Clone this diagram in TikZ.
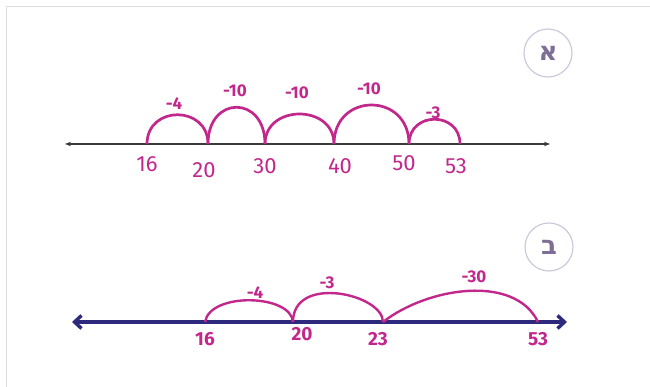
\documentclass[tikz,border=0pt]{standalone}
\usepackage{fontspec}
\usepackage{xcolor}
\usepackage{tikz}
\usetikzlibrary{arrows.meta}
\TeXXeTstate=1
\newfontfamily\handfont{Fira Sans}
\newfontfamily\hebfont[Script=Hebrew]{DejaVu Sans}
\definecolor{pen}{HTML}{C2288C}
\definecolor{axisgray}{HTML}{3A3A3A}
\definecolor{axisnavy}{HTML}{2D2A7E}
\definecolor{badgering}{HTML}{CFC8DC}
\definecolor{badgetext}{HTML}{7D6E96}
\definecolor{framegray}{HTML}{DDDDDD}

\begin{document}
\begin{tikzpicture}[
    x=1pt, y=1pt,
    jump/.style={draw=pen, line width=2.7pt},
    num/.style={text=pen, inner sep=0pt, font=\handfont\fontsize{22}{22}\selectfont},
    hoplabel/.style={text=pen, inner sep=0pt, font=\handfont\bfseries\fontsize{17}{17}\selectfont},
    badge/.style={circle, draw=badgering, line width=1.2pt, minimum size=48pt, inner sep=0pt,
        text=badgetext, font=\hebfont\bfseries\fontsize{26}{26}\selectfont}
]
\useasboundingbox (0,0) rectangle (650,387);
\draw[framegray, line width=1pt] (6,0) -- (6,380) -- (650,380);

% line A
\coordinate (aL) at (65,243);
\coordinate (aR) at (550,243);
\draw[{Stealth[length=6pt,width=4.5pt]}-{Stealth[length=6pt,width=4.5pt]},
    line width=1.1pt, draw=axisgray] (aL) -- (aR);
\foreach \v/\x in {16/147, 20/208, 30/265, 40/334, 50/409, 53/460}
    \coordinate (a\v) at (\x,243);
\draw[jump] (a16) .. controls +(0,39) and +(0,39) .. (a20);
\draw[jump] (a20) .. controls +(0,49) and +(0,49) .. (a30);
\draw[jump] (a30) .. controls +(0,40) and +(0,40) .. (a40);
\draw[jump] (a40) .. controls +(0,52) and +(0,52) .. (a50);
\draw[jump] (a50) .. controls +(0,33) and +(0,33) .. (a53);
\foreach \v/\x/\y in {16/147/223, 20/204/217, 30/265/221, 40/340/221, 50/404/224, 53/456/221}
    \node[num] (na\v) at (\x,\y) {\v};
\node[hoplabel] (ha1) at (174,283) {-4};
\node[hoplabel] (ha2) at (235,296) {-10};
\node[hoplabel] (ha3) at (297,294) {-10};
\node[hoplabel] (ha4) at (369,298) {-10};
\node[hoplabel] (ha5) at (433,274) {-3};
\node[badge] (badgeA) at (548,334) {\beginR א\endR};

% line B
\coordinate (bL) at (72,65);
\coordinate (bR) at (567,65);
\draw[{Straight Barb[length=7pt,width=13pt]}-{Straight Barb[length=7pt,width=13pt]},
    line width=3.4pt, draw=axisnavy] (bL) -- (bR);
\foreach \v/\x in {16/205, 20/293, 23/383, 53/538}
    \coordinate (b\v) at (\x,65);
\draw[jump, line width=2.4pt] (b16) .. controls +(5,30) and +(-2,28) .. (b20);
\draw[jump, line width=2.4pt] (b20) .. controls +(0,48) and +(0,28) .. (b23);
\draw[jump, line width=2.4pt] (b23) .. controls +(45,35) and +(-23,48) .. (b53);
\foreach \v/\x/\y in {16/205/48, 20/302/53, 23/378/48, 53/538/48}
    \node[num, font=\handfont\bfseries\fontsize{19}{19}\selectfont] (nb\v) at (\x,\y) {\v};
\node[hoplabel] (hb1) at (255,94) {-4};
\node[hoplabel] (hb2) at (327,104) {-3};
\node[hoplabel] (hb3) at (474,110) {-30};
\node[badge] (badgeB) at (549,140) {\beginR ב\endR};
\end{tikzpicture}
\end{document}
